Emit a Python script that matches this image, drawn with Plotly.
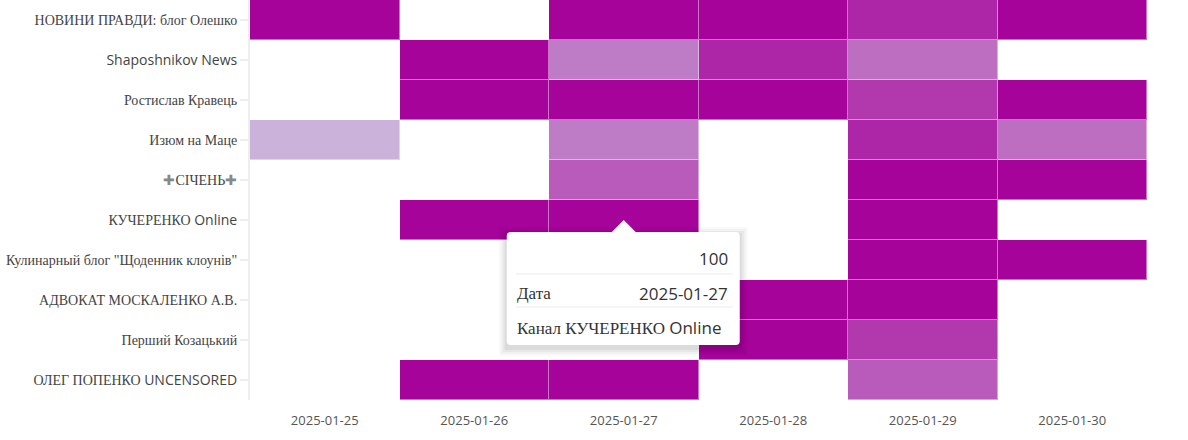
import re
import plotly.graph_objects as go

dates = ["2025-01-25", "2025-01-26", "2025-01-27", "2025-01-28", "2025-01-29", "2025-01-30"]
channels = [
    "НОВИНИ ПРАВДИ: блог Олешко",
    "Shaposhnikov News",
    "Ростислав Кравець",
    "Изюм на Маце",
    "✚СІЧЕНЬ✚",
    "КУЧЕРЕНКО Online",
    "Кулинарный блог \"Щоденник клоунів\"",
    "АДВОКАТ МОСКАЛЕНКО А.В.",
    "Перший Козацький",
    "ОЛЕГ ПОПЕНКО UNCENSORED",
]
N = None
# values per channel (rows), per date (columns); None = no data
v_novyny = [100, N, 100, 100, 82, 100]
v_shaposhnikov = [N, 100, 38, 82, 45, N]
v_kravets = [N, 100, 100, 100, 73, 100]
v_izyum = [10, N, 38, N, 82, 45]
v_sichen = [N, N, 55, N, 100, 100]
v_kucherenko = [N, 100, 100, N, 100, N]
v_kulinarny = [N, N, N, N, 100, 100]
v_advokat = [N, N, N, 100, 100, N]
v_pershyi = [N, N, N, 100, 73, N]
v_popenko = [N, 100, 100, N, 55, N]

z = [v_novyny, v_shaposhnikov, v_kravets, v_izyum, v_sichen,
     v_kucherenko, v_kulinarny, v_advokat, v_pershyi, v_popenko]

# tooltip content (hovered cell)
tip_date = "2025-01-27"
tip_channel = "КУЧЕРЕНКО Online"
tip_value = z[channels.index(tip_channel)][dates.index(tip_date)]

scale = [[0, "#CBB2DA"], [1, "#A6039A"]]
SANS = "Open Sans, Noto Sans, sans-serif"
SERIF = "Liberation Serif"


def styled(text):
    """Cyrillic runs in serif (as the original's font fallback shows them)."""
    out = []
    for run in re.findall(r"[\u0400-\u04FF][\u0400-\u04FF :\.\"]*[\u0400-\u04FF\.\"]?|✚|[^\u0400-\u04FF✚]+", text):
        if run == "✚":
            out.append('<span style="color:#888">✚</span>')
        elif re.match(r"[\u0400-\u04FF]", run):
            out.append(f'<span style="font-family:{SERIF}">{run}</span>')
        else:
            out.append(run)
    return "".join(out)


fig = go.Figure()
# underlay: gives the soft light borders between cells
fig.add_trace(go.Heatmap(x=dates, y=channels, z=z, colorscale=scale, zmin=10, zmax=100,
                         showscale=False, opacity=0.55, hoverinfo="skip"))
fig.add_trace(go.Heatmap(x=dates, y=channels, z=z, colorscale=scale, zmin=10, zmax=100,
                         showscale=False, xgap=1, ygap=1,
                         hovertemplate="%{z}<br>Дата %{x}<br>Канал %{y}<extra></extra>"))

# tooltip drawn at the hovered cell
box_l, box_r, box_t, box_b = -117, 116, -12, -125
r = 4
path = (f"M {box_l + r},{box_t} L -12,{box_t} L 0,0 L 12,{box_t} L {box_r - r},{box_t} "
        f"Q {box_r},{box_t} {box_r},{box_t - r} L {box_r},{box_b + r} "
        f"Q {box_r},{box_b} {box_r - r},{box_b} L {box_l + r},{box_b} "
        f"Q {box_l},{box_b} {box_l},{box_b + r} L {box_l},{box_t - r} "
        f"Q {box_l},{box_t} {box_l + r},{box_t} Z")
for i, a in enumerate([0.025, 0.03, 0.04, 0.05]):
    g = 8 - 2 * i
    fig.add_shape(type="rect", xref="x", yref="y", xsizemode="pixel", ysizemode="pixel",
                  xanchor=tip_date, yanchor=tip_channel,
                  x0=box_l - g, x1=box_r + g, y0=box_t + g - 3, y1=box_b - g - 3,
                  fillcolor=f"rgba(0,0,0,{a})", line_width=0, layer="above")
fig.add_shape(type="path", xref="x", yref="y", xsizemode="pixel", ysizemode="pixel",
              xanchor=tip_date, yanchor=tip_channel, path=path,
              fillcolor="white", line_width=0, layer="above")
for yy in (-54, -87):
    fig.add_shape(type="line", xref="x", yref="y", xsizemode="pixel", ysizemode="pixel",
                  xanchor=tip_date, yanchor=tip_channel, x0=-108, x1=109, y0=yy, y1=yy,
                  line=dict(color="#ebebeb", width=1), layer="above")


def tip_text(text, xs, ys, anchor):
    fig.add_annotation(x=tip_date, y=tip_channel, xref="x", yref="y", text=text,
                       showarrow=False, xanchor=anchor, yanchor="middle",
                       xshift=xs, yshift=ys, font=dict(family=SANS, size=17, color="#333"))


tip_text(str(tip_value), 106, -38, "right")
tip_text(styled("Дата"), -109, -73, "left")
tip_text(tip_date, 106, -73, "right")
tip_text(styled(f"Канал {tip_channel}"), -109, -107, "left")

fig.update_layout(
    width=1188, height=440,
    margin=dict(l=250, r=41, t=0, b=40),
    plot_bgcolor="white", paper_bgcolor="white",
    font=dict(family=SANS, color="#444"),
    showlegend=False,
)
fig.update_xaxes(type="category", showgrid=False, zeroline=False, showline=False,
                 ticks="outside", ticklen=8, tickcolor="rgba(0,0,0,0)",
                 automargin=False, tickfont=dict(size=13, color="#555"))
fig.update_yaxes(type="category", autorange="reversed", showgrid=False, zeroline=False,
                 automargin=False, tickvals=channels, ticktext=[styled(c) for c in channels],
                 showline=True, linecolor="#eeeeee", linewidth=2,
                 ticks="outside", ticklen=8, tickwidth=2, tickcolor="#eeeeee",
                 tickfont=dict(size=14, color="#444"))

fig.write_html("out.html", config={"displayModeBar": False},
               post_script="document.body.style.margin='0px';")
